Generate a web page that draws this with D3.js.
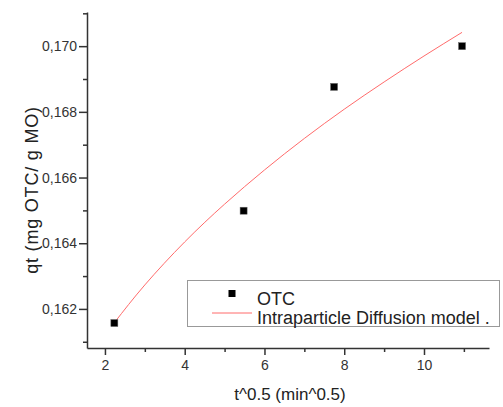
<!DOCTYPE html>
<html>
<head>
<meta charset="utf-8">
<script src="https://cdn.jsdelivr.net/npm/d3@7"></script>
<style>
  body { margin: 0; background: #fff; }
  svg { display: block; font-family: "Liberation Sans", Arial, sans-serif; }
  .axis path, .axis line { stroke: #333; }
  .axis text { fill: #333; font-size: 14px; }
</style>
</head>
<body>
<div id="chart"></div>
<script>
// measured points (t^0.5 vs qt)
let otcX = [2.236, 5.477, 7.746, 10.954];
let otcY = [0.16157, 0.16499, 0.16876, 0.17000];

// fitted curve
let fitX = [2.236, 3, 4, 5, 6, 7, 8, 9, 10, 10.954];
let fitY = [0.16158, 0.16273, 0.16404, 0.16519, 0.16623, 0.16719, 0.16808, 0.16891, 0.16970, 0.17042];

let xTicks = [2, 4, 6, 8, 10];
let yTicks = [0.162, 0.164, 0.166, 0.168, 0.170];
let xMinor = [3, 5, 7, 9, 11];
let yMinor = [0.161, 0.163, 0.165, 0.167, 0.169, 0.171];

let legendLabels = ["OTC", "Intraparticle Diffusion model ."];

makeChart("#chart");

function makeChart(element) {
  WIDTH = 503;
  HEIGHT = 407;
  let margin = {top: 12, right: 14, bottom: 59, left: 87};

  let svg = d3.select(element).append("svg")
    .attr("width", WIDTH)
    .attr("height", HEIGHT);

  let x = d3.scaleLinear().domain([1.55, 11.63])
    .range([margin.left, WIDTH - margin.right]);
  let y = d3.scaleLinear().domain([0.16081, 0.17104])
    .range([HEIGHT - margin.bottom, margin.top]);

  let fmt = v => d3.format(".3f")(v).replace(".", ",");

  // minor ticks first, then major axis on top
  svg.append("g").attr("class", "axis")
    .attr("transform", `translate(0,${HEIGHT - margin.bottom})`)
    .call(d3.axisBottom(x).tickValues(xMinor).tickSize(4).tickFormat(""))
    .call(g => g.select(".domain").remove());
  svg.append("g").attr("class", "axis")
    .attr("transform", `translate(${margin.left},0)`)
    .call(d3.axisLeft(y).tickValues(yMinor).tickSize(4).tickFormat(""))
    .call(g => g.select(".domain").remove());

  svg.append("g").attr("class", "axis")
    .attr("transform", `translate(0,${HEIGHT - margin.bottom})`)
    .call(d3.axisBottom(x).tickValues(xTicks).tickSize(7).tickSizeOuter(0).tickPadding(5)
      .tickFormat(d3.format("d")));
  svg.append("g").attr("class", "axis")
    .attr("transform", `translate(${margin.left},0)`)
    .call(d3.axisLeft(y).tickValues(yTicks).tickSize(8).tickSizeOuter(0).tickPadding(2)
      .tickFormat(fmt));

  svg.selectAll(".axis path, .axis line").attr("stroke-width", 1.5);

  // axis titles
  svg.append("text")
    .attr("x", (margin.left + WIDTH - margin.right) / 2 + 2)
    .attr("y", 400)
    .attr("text-anchor", "middle")
    .attr("font-size", 17).attr("fill", "#222")
    .text("t^0.5 (min^0.5)");
  svg.append("text")
    .attr("transform", `translate(38,190) rotate(-90)`)
    .attr("text-anchor", "middle")
    .attr("font-size", 18).attr("fill", "#222")
    .attr("letter-spacing", 0.8)
    .text("qt (mg OTC/ g MO)");

  // fitted curve
  let line = d3.line()
    .x((d, i) => x(fitX[i]))
    .y(d => y(d))
    .curve(d3.curveNatural);
  svg.append("path")
    .datum(fitY)
    .attr("fill", "none")
    .attr("stroke", "#ff6b6b")
    .attr("stroke-width", 1)
    .attr("d", line);

  // data points
  svg.selectAll("rect.pt").data(otcY).enter()
    .append("rect")
    .attr("class", "pt")
    .attr("x", (d, i) => x(otcX[i]) - 3.5)
    .attr("y", d => y(d) - 3.5)
    .attr("width", 7).attr("height", 7)
    .attr("fill", "#000")
    .attr("stroke", "#666").attr("stroke-width", 0.5);

  // legend
  let lg = svg.append("g");
  lg.append("rect")
    .attr("x", 187.5).attr("y", 280.5)
    .attr("width", 312).attr("height", 46)
    .attr("fill", "#fff").attr("stroke", "#999").attr("stroke-width", 1);
  lg.append("rect")
    .attr("x", 228.5).attr("y", 290).attr("width", 7).attr("height", 7)
    .attr("fill", "#000");
  lg.append("line")
    .attr("x1", 212).attr("x2", 252).attr("y1", 313).attr("y2", 313)
    .attr("stroke", "#ff6b6b").attr("stroke-width", 1);
  lg.selectAll("text.lbl").data(legendLabels).enter()
    .append("text")
    .attr("class", "lbl")
    .attr("x", 257)
    .attr("y", (d, i) => 305 + i * 19)
    .attr("font-size", 18).attr("fill", "#222")
    .text(d => d);
}
</script>
</body>
</html>
